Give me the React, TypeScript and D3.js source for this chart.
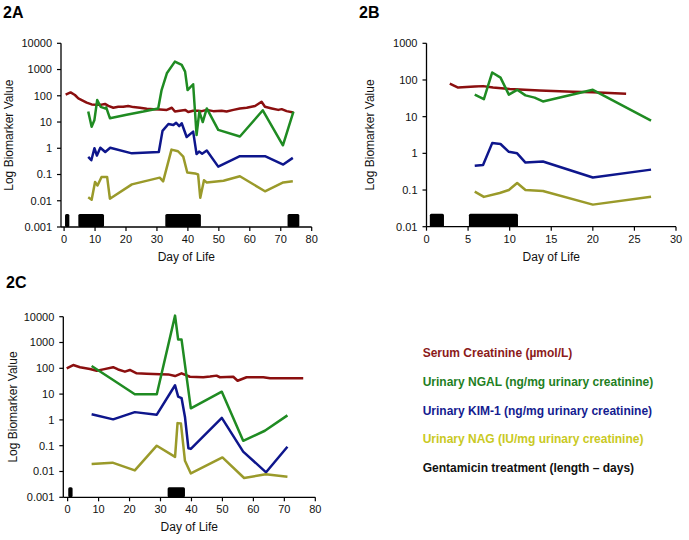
import React from "react";
import * as d3 from "d3";

// ---- data (day of life, value) ----
const creatA: [number, number][] = [
  [0.5, 110], [2.1, 134], [3.5, 107], [4.6, 80], [5.7, 69], [7.3, 55], [8.9, 47], [10.5, 46],
  [12.1, 46], [13.2, 49], [14.3, 41], [15.9, 35], [17.5, 38], [19.1, 38], [20.7, 41], [22.4, 37],
  [24.5, 35], [26.7, 32], [28.9, 31], [31, 30], [33.2, 29], [34.8, 35], [35.8, 25], [37.4, 27],
  [39.1, 29], [40.1, 24], [41.7, 27], [43.3, 27], [44.5, 26], [46.1, 29], [48.2, 26], [50.9, 27],
  [52.5, 25], [54.7, 29], [56.8, 33], [59, 35], [61.7, 41], [63.8, 59], [64.9, 38], [67.1, 33],
  [69.2, 29], [70.3, 31], [71.9, 26], [74.1, 23],
];
const ngalA: [number, number][] = [
  [7.8, 25], [8.9, 6.6], [9.8, 12], [10.7, 69], [11.8, 38], [13.2, 33], [13.6, 36], [14.8, 14],
  [20.2, 19], [25.6, 25], [30.4, 33], [31.5, 166], [33.2, 720], [35.8, 2000], [38, 1500],
  [39.1, 830], [39.9, 165], [41.7, 275], [42.8, 3.2], [43.7, 25], [44.8, 10], [46.1, 33],
  [49.8, 5], [56.8, 2.8], [64.2, 28], [70.7, 1.3], [74.1, 25],
];
const kimA: [number, number][] = [
  [7.8, 0.47], [8.8, 0.35], [9.8, 1.0], [10.6, 0.53], [11.7, 1.05], [13.3, 0.72], [14.9, 1.05],
  [21.9, 0.64], [30.6, 0.72], [31.8, 4.6], [33.7, 8.4], [35.3, 7.7], [36.2, 9.4], [37.2, 7],
  [38, 9], [39.6, 2.7], [41.7, 4.3], [42.8, 0.6], [43.6, 0.75], [44.6, 0.62], [46.1, 0.82],
  [49.8, 0.2], [56.8, 0.5], [64.9, 0.5], [70.8, 0.24], [73.9, 0.43],
];
const nagA: [number, number][] = [
  [7.8, 0.0135], [8.9, 0.011], [10, 0.052], [10.8, 0.038], [12.1, 0.081], [13.9, 0.081],
  [14.8, 0.012], [21.9, 0.042], [30.9, 0.076], [32, 0.055], [34.7, 0.89], [36.8, 0.77],
  [38.5, 0.48], [39.8, 0.12], [42.3, 0.11], [43.3, 0.1], [44, 0.013], [45.2, 0.06], [46.1, 0.05],
  [51.5, 0.058], [56.8, 0.086], [64.9, 0.023], [70.8, 0.05], [73.9, 0.055],
];
const gentA: [number, number][] = [[0.3, 1.7], [4.6, 12.9], [32.7, 44.2], [72.2, 76]];

const creatB: [number, number][] = [
  [2.8, 79], [3.8, 62], [5.8, 66], [6.8, 68], [8, 62], [10, 57], [13.6, 52], [17.6, 48], [20, 46], [24, 42],
];
const ngalB: [number, number][] = [
  [5.8, 40], [6.9, 30], [7.9, 160], [8.9, 116], [9.9, 40], [10.9, 54], [11.9, 38], [13, 33],
  [14, 26], [20, 54], [27, 7.8],
];
const kimB: [number, number][] = [
  [5.8, 0.46], [6.8, 0.48], [7.9, 1.9], [8.9, 1.8], [9.9, 1.1], [10.9, 1.0], [11.9, 0.56],
  [14, 0.6], [20, 0.22], [27, 0.36],
];
const nagB: [number, number][] = [
  [5.8, 0.09], [6.9, 0.065], [8.8, 0.083], [9.9, 0.1], [10.9, 0.155], [11.9, 0.1], [14, 0.094],
  [20, 0.04], [27, 0.066],
];
const gentB: [number, number][] = [[0.4, 2.1], [5.1, 11]];

const creatC: [number, number][] = [
  [-0.3, 100], [1.8, 134], [4, 110], [7.2, 94], [9.4, 81], [11.5, 91], [14.7, 110], [16.3, 90],
  [18.5, 74], [20.1, 86], [22.3, 64], [25.5, 62], [29.8, 59], [32.5, 58], [34.7, 50], [36.8, 64],
  [39.5, 47], [43.8, 45], [46, 48], [48.1, 52], [49.2, 45], [53.5, 47], [54.9, 33], [57.8, 45],
  [63.2, 45], [65.4, 41], [70, 41], [76.1, 41],
];
const ngalC: [number, number][] = [
  [7.75, 123], [14.7, 35], [21.7, 9.8], [28.8, 9.8], [34.7, 11000], [35.7, 1300], [36.8, 1300],
  [39.8, 2.8], [49.8, 12.4], [56.7, 0.155], [63.7, 0.38], [71, 1.5],
];
const kimC: [number, number][] = [
  [7.75, 1.65], [14.7, 1.05], [21.7, 2.0], [28.8, 1.6], [34.7, 22], [35.7, 8], [36.8, 7],
  [37.9, 1.3], [39, 0.08], [39.8, 0.075], [49.8, 1.2], [56.7, 0.059], [64.1, 0.0093], [71, 0.091],
];
const nagC: [number, number][] = [
  [7.75, 0.0195], [14.5, 0.022], [21.7, 0.011], [28.8, 0.1], [34.7, 0.037], [35.5, 0.75],
  [36.6, 0.72], [37.9, 0.026], [39.8, 0.0084], [50, 0.035], [57, 0.0056], [64, 0.0078], [71, 0.0062],
];
const gentC: [number, number][] = [[0.2, 1.6], [32.3, 37.9]];

const ticksAC = [0.001, 0.01, 0.1, 1, 10, 100, 1000, 10000];
const ticksB = [0.01, 0.1, 1, 10, 100, 1000];
const dayTicks80 = [0, 10, 20, 30, 40, 50, 60, 70, 80];
const dayTicks30 = [0, 5, 10, 15, 20, 25, 30];

const legendLabels = [
  "Serum Creatinine (\u00b5mol/L)",
  "Urinary NGAL (ng/mg urinary creatinine)",
  "Urinary KIM-1 (ng/mg urinary creatinine)",
  "Urinary NAG (IU/mg urinary creatinine)",
  "Gentamicin treatment (length \u2013 days)",
];

const lineColors = ["#8b0f0f", "#1f8b22", "#0e168c", "#9a9a2a"];
const legendColors = ["#8b1a1a", "#1f7f1f", "#141c90", "#c9c923", "#111111"];
const font = "'Liberation Sans', Arial, sans-serif";

function Panel({ label, labelX, labelY, xDomain, xRange, yDomain, yRange, xTicks, yTicks, series, gent, barH, titleX }) {
  const x = d3.scaleLinear().domain(xDomain).range(xRange);
  const y = d3.scaleLog().domain(yDomain).range(yRange);
  const line = d3.line<[number, number]>().x((d) => x(d[0])).y((d) => y(d[1]));
  const x0 = xRange[0];
  const yb = yRange[0];
  const xEnd = x(xTicks[xTicks.length - 1]);
  return (
    <g fontFamily={font}>
      <text x={labelX} y={labelY} fontSize={16} fontWeight="bold">{label}</text>
      {series.map((s, i) => (
        <path key={i} d={line(s) ?? ""} fill="none" stroke={lineColors[i]} strokeWidth={2.5} strokeLinejoin="round" />
      ))}
      {gent.map((g, i) => (
        <rect key={i} x={x(g[0])} y={yb - barH} width={x(g[1]) - x(g[0])} height={barH} rx={1.5} fill="#000" />
      ))}
      <line x1={x0} x2={x0} y1={yRange[1]} y2={yb} stroke="#000" strokeWidth={1.3} />
      <line x1={x0} x2={xEnd} y1={yb} y2={yb} stroke="#000" strokeWidth={1.3} />
      {yTicks.map((t) => (
        <g key={t}>
          <line x1={x0 - 4} x2={x0} y1={y(t)} y2={y(t)} stroke="#000" strokeWidth={1.2} />
          <text x={x0 - 9} y={y(t)} dy="0.35em" textAnchor="end" fontSize={11} fill="#111">{String(t)}</text>
        </g>
      ))}
      {xTicks.map((t) => (
        <g key={t}>
          <line x1={x(t)} x2={x(t)} y1={yb} y2={yb + 4} stroke="#000" strokeWidth={1.2} />
          <text x={x(t)} y={yb + 16} textAnchor="middle" fontSize={11} fill="#111">{t}</text>
        </g>
      ))}
      <text x={(x0 + xEnd) / 2} y={yb + 34} textAnchor="middle" fontSize={12} fill="#111">Day of Life</text>
      <text transform={`translate(${titleX},${(yRange[0] + yRange[1]) / 2}) rotate(-90)`} textAnchor="middle" dy="0.35em" fontSize={12} fill="#111">Log Biomarker Value</text>
    </g>
  );
}

export default function App() {
  return (
    <svg width={689} height={540} style={{ position: "absolute", left: 0, top: 0, background: "#fff" }}>
      <Panel label="2A" labelX={3} labelY={18} xDomain={[-1, 80]} xRange={[61, 311.7]} yDomain={[0.001, 10000]} yRange={[227, 43.3]}
        xTicks={dayTicks80} yTicks={ticksAC} series={[creatA, ngalA, kimA, nagA]} gent={gentA} barH={13} titleX={9} />
      <Panel label="2B" labelX={359} labelY={18} xDomain={[0, 30]} xRange={[426.5, 676]} yDomain={[0.01, 1000]} yRange={[226.7, 43.3]}
        xTicks={dayTicks30} yTicks={ticksB} series={[creatB, ngalB, kimB, nagB]} gent={gentB} barH={13} titleX={370} />
      <Panel label="2C" labelX={6} labelY={288} xDomain={[-1.4, 80]} xRange={[63.3, 315.3]} yDomain={[0.001, 10000]} yRange={[497.3, 316.7]}
        xTicks={dayTicks80} yTicks={ticksAC} series={[creatC, ngalC, kimC, nagC]} gent={gentC} barH={10} titleX={13} />
      <g fontFamily={font} fontWeight="bold" fontSize={12}>
        {legendLabels.map((l, i) => (
          <text key={l} x={422.7} y={352.7 + i * 28.8} dy="0.35em" fill={legendColors[i]}>{l}</text>
        ))}
      </g>
    </svg>
  );
}
